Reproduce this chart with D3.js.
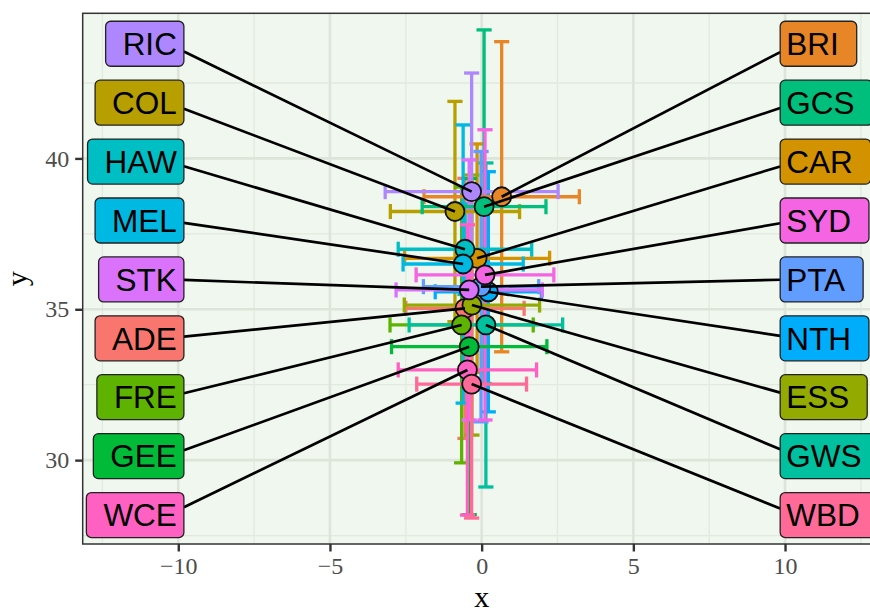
<!DOCTYPE html>
<html>
<head>
<meta charset="utf-8">
<script src="https://cdn.jsdelivr.net/npm/d3@7"></script>
<style>
  html, body { margin: 0; padding: 0; background: #ffffff; }
  svg { display: block; }
</style>
</head>
<body>
<div id="chart"></div>
<script>
// Teams in factor order (alphabetical by full club name)
const teams = ["ADE", "BRI", "CAR", "COL", "ESS", "FRE", "GEE", "GCS", "GWS",
               "HAW", "MEL", "NTH", "PTA", "RIC", "STK", "SYD", "WCE", "WBD"];
const teamColors = ["#F8766D", "#E88526", "#D39200", "#B79F00", "#93AA00", "#5EB300",
                    "#00BA38", "#00BF7D", "#00C19F", "#00BFC4", "#00B9E3", "#00ADFA",
                    "#619CFF", "#AE87FF", "#DB72FB", "#F564E3", "#FF61C3", "#FF6A98"];
// Point estimates
const xValues = [-0.55, 0.66, -0.15, -0.88, -0.32, -0.66, -0.41, 0.08, 0.14,
                 -0.55, -0.61, 0.22, -0.02, -0.33, -0.41, 0.11, -0.47, -0.33];
const yValues = [35.03, 38.73, 36.69, 38.24, 35.14, 34.48, 33.76, 38.40, 34.48,
                 36.99, 36.50, 35.58, 35.75, 38.90, 35.64, 36.14, 32.99, 32.52];
// Half-widths of the intervals
const xErrors = [1.95, 2.56, 2.39, 2.13, 2.23, 2.36, 2.56, 2.04, 2.53,
                 2.20, 1.98, 1.75, 1.90, 2.85, 2.41, 2.27, 2.28, 1.81];
const yErrors = [4.31, 5.14, 3.79, 3.65, 4.31, 4.57, 5.57, 5.86, 5.37,
                 1.50, 4.61, 3.98, 4.48, 3.93, 4.31, 4.81, 4.81, 4.44];
// Which side each team's label sits on
const labelSide = ["L", "R", "R", "L", "R", "L", "L", "R", "R",
                   "L", "L", "R", "R", "L", "L", "R", "L", "R"];

const xTicks = [-10, -5, 0, 5, 10];
const yTicks = [30, 35, 40];

const W = 870, H = 615;
const panel = { left: 82.7, top: 13.3, right: 880.6, bottom: 544 };

const svg = d3.select("#chart").append("svg")
  .attr("width", W).attr("height", H)
  .attr("viewBox", `0 0 ${W} ${H}`);

const x = d3.scaleLinear().domain([-13.15, 13.15]).range([panel.left, panel.right]);
const y = d3.scaleLinear().domain([27.22, 44.81]).range([panel.bottom, panel.top]);

const rows = teams.map((t, i) => ({
  team: t, color: teamColors[i], x: xValues[i], y: yValues[i],
  xe: xErrors[i], ye: yErrors[i], side: labelSide[i]
}));

// Panel background
svg.append("rect")
  .attr("x", panel.left).attr("y", panel.top)
  .attr("width", panel.right - panel.left).attr("height", panel.bottom - panel.top)
  .attr("fill", "#eff7ee");

// Grid
const grid = svg.append("g");
const xMinor = [-12.5, -7.5, -2.5, 2.5, 7.5, 12.5];
const yMinor = [27.5, 32.5, 37.5, 42.5];
grid.selectAll(".xminor").data(xMinor).join("line")
  .attr("x1", d => x(d)).attr("x2", d => x(d))
  .attr("y1", panel.top).attr("y2", panel.bottom)
  .attr("stroke", "#e2eadf").attr("stroke-width", 1.3);
grid.selectAll(".yminor").data(yMinor).join("line")
  .attr("y1", d => y(d)).attr("y2", d => y(d))
  .attr("x1", panel.left).attr("x2", panel.right)
  .attr("stroke", "#e2eadf").attr("stroke-width", 1.3);
grid.selectAll(".xmajor").data(xTicks).join("line")
  .attr("x1", d => x(d)).attr("x2", d => x(d))
  .attr("y1", panel.top).attr("y2", panel.bottom)
  .attr("stroke", "#dde5da").attr("stroke-width", 2.6);
grid.selectAll(".ymajor").data(yTicks).join("line")
  .attr("y1", d => y(d)).attr("y2", d => y(d))
  .attr("x1", panel.left).attr("x2", panel.right)
  .attr("stroke", "#dde5da").attr("stroke-width", 2.6);

const plot = svg.append("g");
const capHalf = 0.25; // cap half-width in data units

// Vertical error bars
const vbars = plot.append("g").attr("fill", "none").attr("stroke-width", 3.3).attr("stroke-linecap", "butt");
rows.forEach(d => {
  const g = vbars.append("g").attr("stroke", d.color);
  g.append("line").attr("x1", x(d.x)).attr("x2", x(d.x))
    .attr("y1", y(d.y - d.ye)).attr("y2", y(d.y + d.ye));
  [d.y - d.ye, d.y + d.ye].forEach(v => {
    g.append("line").attr("x1", x(d.x - capHalf)).attr("x2", x(d.x + capHalf))
      .attr("y1", y(v)).attr("y2", y(v));
  });
});
// Horizontal error bars
const hbars = plot.append("g").attr("fill", "none").attr("stroke-width", 3.3).attr("stroke-linecap", "butt");
rows.forEach(d => {
  const g = hbars.append("g").attr("stroke", d.color);
  g.append("line").attr("y1", y(d.y)).attr("y2", y(d.y))
    .attr("x1", x(d.x - d.xe)).attr("x2", x(d.x + d.xe));
  [d.x - d.xe, d.x + d.xe].forEach(v => {
    g.append("line").attr("y1", y(d.y - capHalf)).attr("y2", y(d.y + capHalf))
      .attr("x1", x(v)).attr("x2", x(v));
  });
});

// Points
plot.append("g").selectAll("circle").data(rows).join("circle")
  .attr("cx", d => x(d.x)).attr("cy", d => y(d.y)).attr("r", 9.5)
  .attr("fill", d => d.color).attr("stroke", "#111").attr("stroke-width", 1.8);

// Labels: stacked evenly down each side, ordered by the point's y
const fontSize = 31.5;
const boxH = 45;
const slotY = d3.scaleLinear().domain([0, 8]).range([43.8, 28.18]);
const leftEdge = -9.815, rightEdge = 9.84;

const segLayer = svg.append("g");
const labLayer = svg.append("g");

["L", "R"].forEach(side => {
  const group = rows.filter(d => d.side === side).sort((a, b) => b.y - a.y);
  group.forEach((d, k) => {
    const cy = y(slotY(k));
    const px = x(d.x), py = y(d.y);
    const g = labLayer.append("g");
    const text = g.append("text")
      .attr("font-family", "'Liberation Sans', Arial, sans-serif")
      .attr("font-size", fontSize)
      .attr("fill", "#000")
      .attr("y", cy + 0.716 * fontSize / 2)
      .text(d.team);
    const tw = text.node().getComputedTextLength();
    const bw = tw + 24;
    let bx, edgeX, anchorX;
    if (side === "L") {
      edgeX = x(leftEdge);
      bx = edgeX - bw;
      text.attr("text-anchor", "end").attr("x", edgeX - 7);
      anchorX = edgeX - 16;
    } else {
      edgeX = x(rightEdge);
      bx = edgeX;
      text.attr("text-anchor", "start").attr("x", edgeX + 6);
      anchorX = edgeX + 16;
    }
    g.insert("rect", "text")
      .attr("x", bx).attr("y", cy - boxH / 2)
      .attr("width", bw).attr("height", boxH)
      .attr("rx", 5).attr("ry", 5)
      .attr("fill", d.color).attr("stroke", "#222").attr("stroke-width", 1.3);
    // Connector from the box edge to the point
    const slope = (py - cy) / (px - anchorX);
    const sy = cy + slope * (edgeX - anchorX);
    segLayer.append("line")
      .attr("x1", edgeX).attr("y1", sy).attr("x2", px).attr("y2", py)
      .attr("stroke", "#000").attr("stroke-width", 2.7);
  });
});

// Panel border
svg.append("rect")
  .attr("x", panel.left).attr("y", panel.top)
  .attr("width", panel.right - panel.left).attr("height", panel.bottom - panel.top)
  .attr("fill", "none").attr("stroke", "#333").attr("stroke-width", 1.5);

// Axes
const tickFont = "'Liberation Serif', 'Times New Roman', serif";
const xAxis = svg.append("g").attr("transform", `translate(0,${panel.bottom})`)
  .call(d3.axisBottom(x).tickValues(xTicks).tickSize(7.5).tickPadding(5)
    .tickFormat(d => d < 0 ? "\u2212" + Math.abs(d) : String(d)));
const yAxis = svg.append("g").attr("transform", `translate(${panel.left},0)`)
  .call(d3.axisLeft(y).tickValues(yTicks).tickSize(7.5).tickPadding(6));
[xAxis, yAxis].forEach(a => {
  a.select(".domain").remove();
  a.selectAll(".tick line").attr("stroke", "#333").attr("stroke-width", 2.4);
  a.selectAll(".tick text").attr("fill", "#4d4d4d")
    .attr("font-family", tickFont).attr("font-size", 24);
});

// Axis titles
svg.append("text")
  .attr("x", (panel.left + panel.right) / 2).attr("y", 607)
  .attr("text-anchor", "middle")
  .attr("font-family", tickFont).attr("font-size", 30).attr("fill", "#000")
  .text("x");
svg.append("text")
  .attr("transform", `translate(27,${(panel.top + panel.bottom) / 2}) rotate(-90)`)
  .attr("text-anchor", "middle")
  .attr("font-family", tickFont).attr("font-size", 30).attr("fill", "#000")
  .text("y");
</script>
</body>
</html>
